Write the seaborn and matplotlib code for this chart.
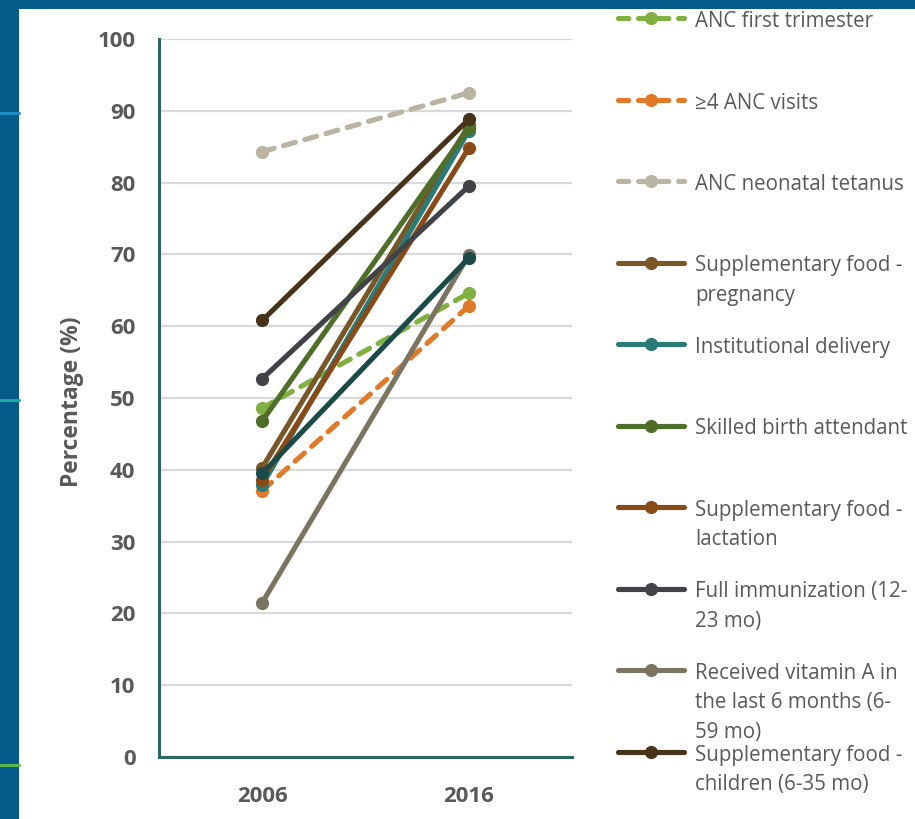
"""Coverage of maternal and child health indicators, 2006 vs 2016."""

import matplotlib.patches as mpatches
import pandas as pd
import seaborn as sns
from matplotlib import pyplot as plt
from matplotlib.lines import Line2D

YEARS = ["2006", "2016"]

INDICATORS = [
    "ANC first trimester",
    "\u22654 ANC visits",
    "ANC neonatal tetanus",
    "Supplementary food -\npregnancy",
    "Institutional delivery",
    "Skilled birth attendant",
    "Supplementary food -\nlactation",
    "Full immunization (12-\n23 mo)",
    "Received vitamin A in\nthe last 6 months (6-\n59 mo)",
    "Supplementary food -\nchildren (6-35 mo)",
    "Unlisted indicator",  # drawn in the chart but not shown in the legend
]

VALUES_2006 = [48.6, 37.1, 84.3, 40.3, 37.9, 46.8, 38.6, 52.7, 21.5, 60.8, 39.5]
VALUES_2016 = [64.6, 62.8, 92.5, 88.0, 87.2, 87.6, 84.8, 79.5, 69.9, 88.8, 69.5]

COLORS = [
    "#80b040",
    "#e07a28",
    "#bab5a2",
    "#785628",
    "#2a7b78",
    "#4f6e2a",
    "#8a4a17",
    "#414346",
    "#7a7460",
    "#46331a",
    "#1c4a48",
]

DASHED = {"ANC first trimester", "\u22654 ANC visits", "ANC neonatal tetanus"}

TEXT_GREY = "#595959"
SPINE_COLOR = "#2b6663"
GRID_COLOR = "#d9d9d9"
BG_BLUE = "#045a89"

W, H = 915, 819
DASH = (2.4, 1.9)
LW = 3.7
MS = 9.5


def _long_df() -> pd.DataFrame:
    rows = []
    for name, v0, v1 in zip(INDICATORS, VALUES_2006, VALUES_2016):
        rows.append({"indicator": name, "year": YEARS[0], "value": v0})
        rows.append({"indicator": name, "year": YEARS[1], "value": v1})
    return pd.DataFrame(rows)


def _main() -> None:
    sns.set_style("white")
    plt.rcParams["font.family"] = ["Open Sans", "DejaVu Sans"]

    fig = plt.figure(figsize=(W / 100, H / 100), dpi=100, facecolor=BG_BLUE)

    # white panel over the blue slide background
    fig.patches.append(
        mpatches.Rectangle(
            (19 / W, 0), 1 - 19 / W, 1 - 9 / H,
            transform=fig.transFigure, facecolor="white", edgecolor="none", zorder=-10,
        )
    )
    for y_px, c in [(113, "#1e8dc4"), (399.5, "#17b0a0"), (765, "#5ab746")]:
        fig.add_artist(
            Line2D([0, 19 / W], [1 - y_px / H] * 2, color=c, lw=2.2,
                   transform=fig.transFigure, zorder=-5)
        )

    ax = fig.add_axes((159 / W, 1 - 757 / H, (572 - 159) / W, (757 - 39) / H))
    ax.set_facecolor("none")
    ax.set_zorder(1)

    df = _long_df()
    palette = dict(zip(INDICATORS, COLORS))
    dashes = {n: (DASH if n in DASHED else "") for n in INDICATORS}

    sns.lineplot(
        data=df,
        x="year",
        y="value",
        hue="indicator",
        hue_order=INDICATORS,
        style="indicator",
        style_order=INDICATORS,
        palette=palette,
        dashes=dashes,
        markers={n: "o" for n in INDICATORS},
        markersize=MS,
        markeredgewidth=0,
        linewidth=LW,
        dash_capstyle="round",
        solid_capstyle="round",
        legend=False,
        ax=ax,
        zorder=3,
    )

    ax.set_xlim(-0.5, 1.5)
    ax.set_ylim(0, 100)
    ax.set_yticks(range(0, 101, 10))
    ax.grid(axis="y", color=GRID_COLOR, lw=1.6)
    ax.set_axisbelow(True)
    for side in ["top", "right"]:
        ax.spines[side].set_visible(False)
    for side in ["left", "bottom"]:
        ax.spines[side].set_color(SPINE_COLOR)
        ax.spines[side].set_linewidth(2.2)
        ax.spines[side].set_zorder(4)
    ax.tick_params(axis="y", length=0, pad=17, labelsize=16, labelcolor=TEXT_GREY)
    ax.tick_params(axis="x", length=0, pad=21, labelsize=16, labelcolor=TEXT_GREY)
    for lab in ax.get_xticklabels() + ax.get_yticklabels():
        lab.set_fontweight("bold")
    ax.set_xlabel("")
    ax.set_ylabel("Percentage (%)", fontsize=16.5, fontweight="bold", color=TEXT_GREY,
                  labelpad=0)
    ax.yaxis.set_label_coords((84 - 159) / (572 - 159), 0.495)

    # Excel-style legend: handle aligned with first text line, fixed row pitch
    for i, name in enumerate(INDICATORS[:10]):
        y_px = 20 + 81.5 * i
        color = palette[name]
        handle = Line2D(
            [], [], color=color, lw=LW, marker="o", markersize=MS, markeredgewidth=0,
            linestyle="-", dash_capstyle="round", solid_capstyle="round",
        )
        if name in DASHED:
            handle.set_dashes((2.0, 1.9))
        fig.legend(
            handles=[handle], labels=[""], loc="center left",
            bbox_to_anchor=(618 / W, 1 - y_px / H), frameon=False,
            handlelength=3.4, fontsize=14, borderpad=0, handletextpad=0,
            borderaxespad=0,
        )
        fig.text(
            695 / W, 1 - (y_px - 9) / H, name, ha="left", va="top",
            fontsize=14.8, color=TEXT_GREY, linespacing=1.52,
        )

    fig.savefig("out.png", dpi=100, facecolor=fig.get_facecolor())


if __name__ == "__main__":
    _main()
